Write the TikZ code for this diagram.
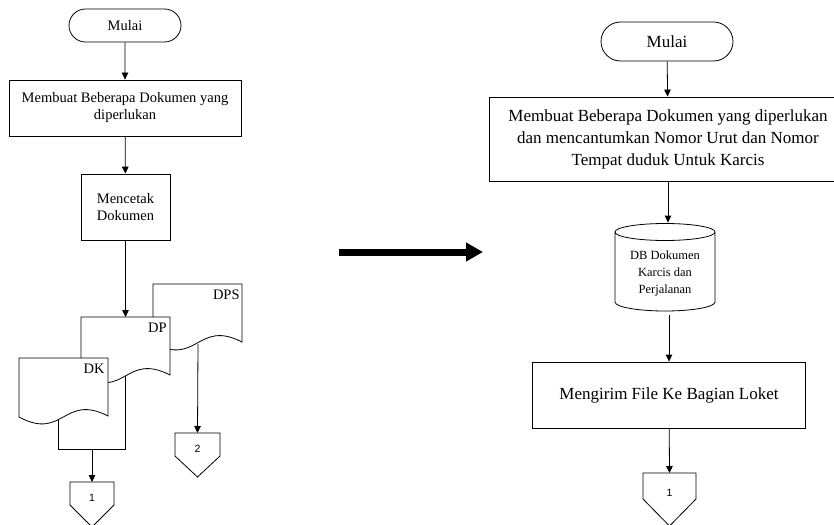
\documentclass[tikz,border=0pt]{standalone}
\usepackage{fontspec}
\setmainfont{Liberation Serif}
\newfontfamily\numfont{Liberation Sans}
\usetikzlibrary{arrows.meta,shapes.misc,calc}

% document symbol: left x, right x, top y, base y of the wavy edge
\newcommand\docsym[4]{%
  \draw[fill=white] (#1,#3) -- (#2,#3) -- (#2,#4-1)
    .. controls ({(#1+#2)/2},#4-24) and ({(#1+#2)/2},#4+24) .. (#1,#4) -- cycle;}
% off-page connector: centre x, half width, top y, side bottom y, tip y
\newcommand\offpage[5]{%
  \draw[fill=white] (#1-#2,#3) -- (#1+#2,#3) -- (#1+#2,#4) -- (#1,#5) -- (#1-#2,#4) -- cycle;}

\begin{document}
\begin{tikzpicture}[x=1pt,y=-1pt,
  line width=0.8pt,
  flow/.style={-{Triangle[length=7pt,width=6.5pt]}},
  terminal/.style={draw,rounded rectangle,inner sep=0pt},
  procbox/.style={draw,rectangle,inner sep=0pt,align=center},
  small/.style={font=\fontsize{14.5}{17}\selectfont},
  large/.style={font=\fontsize{17}{22}\selectfont},
  dblabel/.style={font=\fontsize{12.5}{17}\selectfont,align=center,inner sep=0pt},
  num/.style={font=\numfont\fontsize{10.5}{12}\selectfont},
  doclabel/.style={font=\fontsize{14.5}{17}\selectfont,anchor=east,inner sep=0pt}]
\useasboundingbox (0,0) rectangle (834,524);

% ---------------- left flow ----------------
\node[terminal,small,minimum width=112pt,minimum height=33pt] (m1) at (125,25.5) {Mulai};
\node[procbox,small,minimum width=232pt,minimum height=56pt] (b1) at (125,108)
  {Membuat Beberapa Dokumen yang\\diperlukan};
\node[procbox,small,minimum width=89pt,minimum height=66pt] (b2) at (125.5,207)
  {Mencetak\\Dokumen};
\draw[flow] (m1) -- (b1);
\draw[flow] (b1) -- (b2);

% stacked documents
\draw[fill=white] (58,366) rectangle (125,449);
\docsym{153}{242}{284}{343}
\docsym{81}{170}{317}{376}
\docsym{19}{108}{358}{417}
\coordinate (dp-top) at (125.5,317);
\coordinate (dps-out) at (198,344);
\coordinate (stack-out) at (92,449);
\node[doclabel] (dps) at (240,295) {DPS};
\node[doclabel] (dp) at (167,328) {DP};
\node[doclabel] (dk) at (105,369) {DK};
\draw[flow] (b2) -- (dp-top);

% off-page connectors
\offpage{92}{22}{482}{505}{527}
\offpage{197.5}{22.5}{433}{456}{477}
\node[num] (c1) at (92,498) {1};
\node[num] (c2) at (197.5,449) {2};
\coordinate (c1-top) at (92,482);
\coordinate (c2-top) at (197.5,433);
\draw[flow] (stack-out) -- (c1-top);
\draw[flow] (dps-out) -- (c2-top);

% ---------------- transition arrow ----------------
\coordinate (t-from) at (339,252);
\coordinate (t-to) at (483,252);
\draw[line width=7pt,-{Triangle[length=17pt,width=18pt]}] (t-from) -- (t-to);

% ---------------- right flow ----------------
\node[terminal,large,minimum width=132pt,minimum height=39pt] (m2) at (667,41.5) {Mulai};
\node[procbox,large,minimum width=358pt,minimum height=84pt] (r1) at (668,139)
  {Membuat Beberapa Dokumen yang diperlukan\\dan mencantumkan Nomor Urut dan Nomor\\Tempat duduk Untuk Karcis};
\draw[flow] (m2) -- (r1);

% database cylinder
\draw[fill=white] (615,232) -- (615,302) arc[start angle=180,end angle=360,x radius=50,y radius=-9]
  -- (715,232) arc[start angle=0,end angle=-360,x radius=50,y radius=8.5];
\node[minimum width=100pt,minimum height=88pt,inner sep=0pt] (db) at (665,267) {};
\node[dblabel] (dbtext) at (665,273) {DB Dokumen\\Karcis dan\\Perjalanan};
\draw[flow] (r1.south) -- (r1.south |- db.north);

\node[procbox,large,minimum width=273pt,minimum height=66pt] (r2) at (669,395)
  {Mengirim File Ke Bagian Loket};
\draw[flow] ([yshift=-4pt]r2.north |- db.south) -- (r2.north);

\offpage{669.5}{26.5}{473}{499}{526}
\node[num] (c3) at (669.5,493) {1};
\coordinate (c3-top) at (669.5,473);
\draw[flow] (r2) -- (c3-top);
\end{tikzpicture}
\end{document}
